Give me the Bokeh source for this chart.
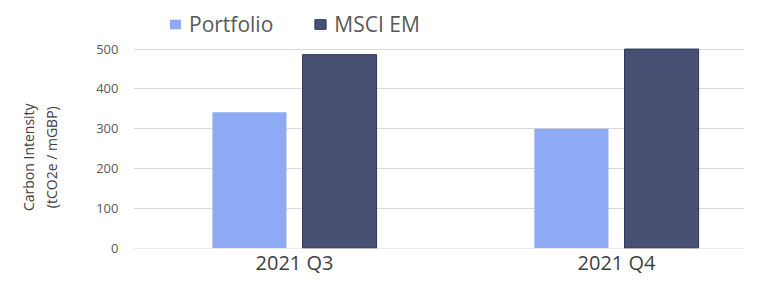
from bokeh.plotting import figure
from bokeh.models import Range1d, FixedTicker, Legend, LegendItem, ColumnDataSource
from bokeh.transform import dodge
from bokeh.embed import file_html
from bokeh.resources import INLINE

categories = ["2021 Q3", "2021 Q4"]
portfolio = [341, 300]
msci_em = [486, 500]
y_ticks = [0, 100, 200, 300, 400, 500]
series_names = ["Portfolio", "MSCI EM"]
y_title = ["Carbon Intensity", "(tCO2e / mGBP)"]

FONT = "Open Sans"

pos = [i + 0.5 for i in range(len(categories))]
src = ColumnDataSource(dict(x=pos, portfolio=portfolio, msci=msci_em))

# frame extends to the top of the figure; blank headroom above 500 holds the legend
p = figure(title=None, width=744, height=278, output_backend="svg",
           toolbar_location=None,
           x_range=Range1d(0, 1.8975), y_range=Range1d(-1, 622),
           min_border_left=133, min_border_right=0, min_border_top=0,
           min_border_bottom=28)
p.outline_line_color = None
p.background_fill_color = "white"
p.border_fill_color = "white"

r1 = p.vbar(x=dodge("x", -0.14, range=p.x_range), top="portfolio", width=0.23,
            source=src, fill_color="#8faaf5", line_color=None)
r2 = p.vbar(x=dodge("x", 0.14, range=p.x_range), top="msci", width=0.23,
            source=src, fill_color="#485074", line_color="#2e3656", line_width=1)

# axes
p.xaxis.ticker = FixedTicker(ticks=pos)
p.xaxis.major_label_overrides = {x: c for x, c in zip(pos, categories)}
p.xaxis.axis_line_color = None
p.xaxis.major_tick_line_color = None
p.xaxis.minor_tick_line_color = None
p.xaxis.major_tick_out = 0
p.xaxis.major_tick_in = 0
p.xaxis.major_label_text_font = FONT
p.xaxis.major_label_text_font_size = "20px"
p.xaxis.major_label_text_color = "#404040"
p.xaxis.major_label_standoff = 0

p.yaxis.ticker = FixedTicker(ticks=y_ticks)
p.yaxis.axis_line_color = None
p.yaxis.major_tick_line_color = None
p.yaxis.minor_tick_line_color = None
p.yaxis.major_tick_out = 0
p.yaxis.major_tick_in = 0
p.yaxis.major_label_text_font = FONT
p.yaxis.major_label_text_font_size = "13px"
p.yaxis.major_label_text_color = "#595959"
p.yaxis.major_label_standoff = 15
# the axis title is centred on the (tall) frame; trailing no-break spaces move it
# down so that it is centred on the 0-500 band, as in the reference
pad = "\u00a0" * 18
p.yaxis.axis_label = "\n".join(t + pad for t in y_title)
p.yaxis.axis_label_text_font = FONT
p.yaxis.axis_label_text_font_size = "14px"
p.yaxis.axis_label_text_font_style = "normal"
p.yaxis.axis_label_text_color = "#404040"
p.yaxis.axis_label_standoff = 32

p.xgrid.grid_line_color = None
p.ygrid.grid_line_color = "#d9d9d9"
p.ygrid.grid_line_width = 1

legend = Legend(items=[LegendItem(label=series_names[0], renderers=[r1]),
                       LegendItem(label=series_names[1], renderers=[r2])],
                orientation="horizontal", location=(35, 210),
                glyph_width=14, glyph_height=12, label_standoff=7, spacing=40,
                padding=0, margin=0, border_line_color=None,
                background_fill_alpha=0,
                label_text_font=FONT, label_text_font_size="21px",
                label_text_color="#595959")
p.add_layout(legend)

open("out.html", "w").write(file_html(p, INLINE))
